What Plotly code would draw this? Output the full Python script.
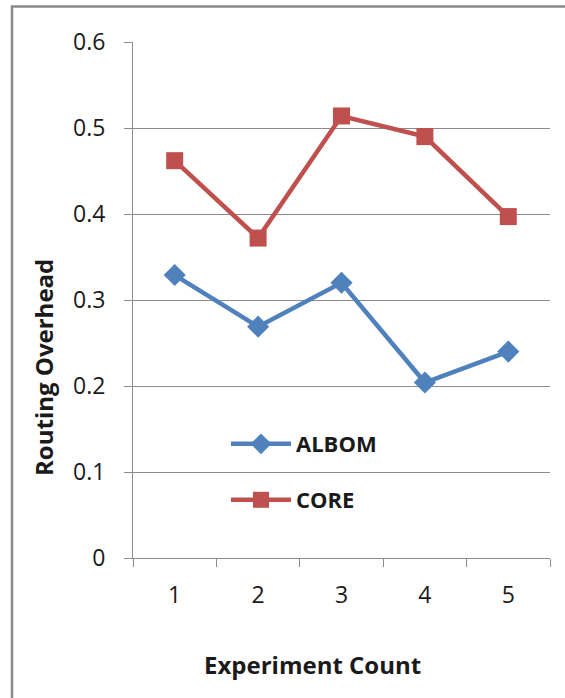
import plotly.graph_objects as go

categories = ["1", "2", "3", "4", "5"]
albom = [0.329, 0.269, 0.320, 0.204, 0.240]
core = [0.462, 0.372, 0.514, 0.490, 0.397]
y_ticks = [0, 0.1, 0.2, 0.3, 0.4, 0.5, 0.6]
y_tick_text = ["0", "0.1", "0.2", "0.3", "0.4", "0.5", "0.6"]

FONT = "Open Sans"
GRID = "#8c8c8c"
TXT = "#1a1a1a"

W, H = 565, 698
L, R, T, B = 133, 15, 42, 140
pw, ph = W - L - R, H - T - B

def px_x(x):
    return (x - L) / pw

def px_y(y):
    return (H - B - y) / ph

fig = go.Figure()
fig.add_trace(go.Scatter(
    x=categories, y=albom, name="ALBOM", mode="lines+markers",
    line=dict(color="#4F81BD", width=4.5),
    marker=dict(symbol="diamond", size=17, color="#4F81BD"),
    legend="legend",
))
fig.add_trace(go.Scatter(
    x=categories, y=core, name="CORE", mode="lines+markers",
    line=dict(color="#C0504D", width=4.5),
    marker=dict(symbol="square", size=17, color="#C0504D"),
    legend="legend2",
))

legend_common = dict(
    font=dict(family=FONT, size=22, color=TXT, weight="bold"),
    bgcolor="rgba(0,0,0,0)", xanchor="left", yanchor="middle",
    itemwidth=60, tracegroupgap=0,
)
fig.update_layout(
    width=W, height=H,
    margin=dict(l=L, r=R, t=T, b=B, autoexpand=False),
    paper_bgcolor="white", plot_bgcolor="white",
    font=dict(family=FONT, color=TXT),
    legend=dict(x=px_x(226), y=px_y(444), **legend_common),
    legend2=dict(x=px_x(226), y=px_y(500), **legend_common),
    xaxis=dict(
        type="category", range=[-0.5, 4.5],
        showline=True, linecolor=GRID, linewidth=1,
        ticks="outside", tickson="boundaries", ticklen=8, tickcolor=GRID,
        showgrid=False, tickfont=dict(family=FONT, size=23, color=TXT),
        ticklabelstandoff=16, zeroline=False,
    ),
    yaxis=dict(
        range=[0, 0.6], tickvals=y_ticks, ticktext=y_tick_text,
        showline=True, linecolor=GRID, linewidth=1,
        ticks="outside", ticklen=8, tickcolor=GRID,
        showgrid=True, gridcolor=GRID, gridwidth=1, zeroline=False,
        tickfont=dict(family=FONT, size=23, color=TXT),
        ticklabelstandoff=14,
    ),
    showlegend=True,
)

# axis titles
fig.add_annotation(text="<b>Experiment Count</b>", xref="paper", yref="paper",
                   x=px_x(312), y=px_y(664), showarrow=False,
                   font=dict(family=FONT, size=24, color=TXT),
                   xanchor="center", yanchor="middle")
fig.add_annotation(text="<b>Routing Overhead</b>", xref="paper", yref="paper",
                   x=px_x(43), y=px_y(368), showarrow=False, textangle=-90,
                   font=dict(family=FONT, size=24, color=TXT),
                   xanchor="center", yanchor="middle")

# outer frame (chart area border, clipped by the picture edges)
fig.add_shape(type="rect", xref="paper", yref="paper",
              x0=px_x(12), x1=px_x(620), y0=px_y(6.5), y1=px_y(740),
              line=dict(color="#8a8a8a", width=2.5), fillcolor="rgba(0,0,0,0)",
              layer="above")

fig.write_html("out.html", config={"displayModeBar": False},
               post_script="document.body.style.margin='0';document.body.style.overflow='hidden';")
